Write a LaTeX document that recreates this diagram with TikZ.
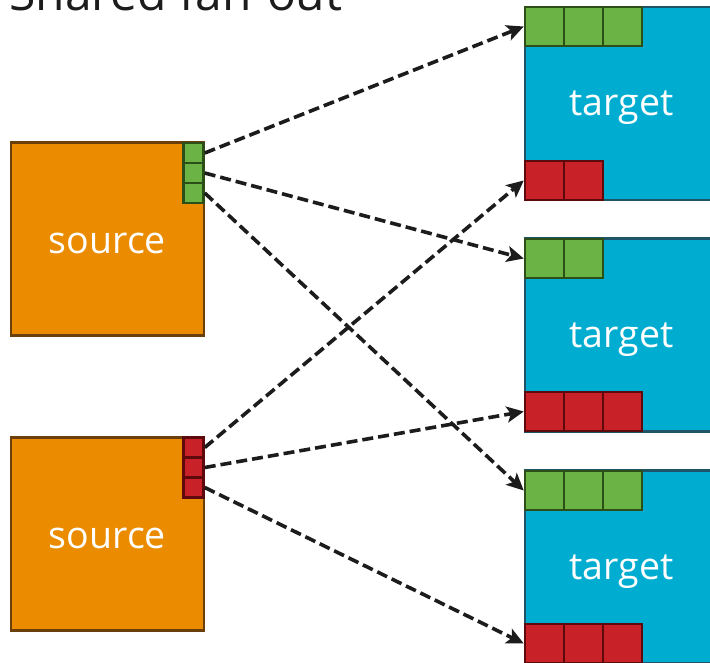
\documentclass[tikz,border=0pt]{standalone}
\usepackage{fontspec}
\setmainfont{Open Sans}
\usetikzlibrary{arrows.meta}
\definecolor{srcfill}{HTML}{EB8C00}
\definecolor{srcline}{HTML}{6B3F0C}
\definecolor{tgtfill}{HTML}{00ADD0}
\definecolor{tgtline}{HTML}{1E5466}
\definecolor{gfill}{HTML}{6AB344}
\definecolor{gline}{HTML}{2C4F18}
\definecolor{rfill}{HTML}{C82128}
\definecolor{rline}{HTML}{5E0A0C}
\definecolor{wire}{HTML}{1C1C1C}
\tikzset{
  boxtext/.style={text=white, font=\fontsize{37.5}{42}\selectfont, inner sep=0pt, yshift=-4.5pt},
  box/.style={minimum size=193pt, inner sep=0pt, line width=2.5pt},
  srcbox/.style={box, draw=srcline, fill=srcfill},
  tgtbox/.style={box, draw=tgtline, fill=tgtfill},
  gport/.style={draw=gline, fill=gfill, line width=2.5pt, inner sep=0pt},
  rport/.style={draw=rline, fill=rfill, line width=2.5pt, inner sep=0pt},
  small/.style={minimum size=20pt},
  big/.style={minimum size=39pt},
  link/.style={draw=wire, line width=3.6pt, dash pattern=on 11pt off 5pt,
    -{Stealth[length=17pt,width=16pt,inset=4pt]}}
}
\begin{document}
\begin{tikzpicture}[x=1pt,y=-1pt]
\useasboundingbox (0,0) rectangle (710,662);
\clip (0,0) rectangle (710,662);

% heading
\node[anchor=base west, inner sep=0pt, text=wire, font=\fontsize{48}{52}\selectfont] (title) at (9,10) {Shared fan-out};

% sources
\node[srcbox, label={[boxtext]center:source}] (s1) at (107.5,239) {};
\node[srcbox, label={[boxtext]center:source}] (s2) at (107.5,534) {};

% targets
\node[tgtbox, label={[boxtext]center:target}] (t1) at (621.5,103.5) {};
\node[tgtbox, label={[boxtext]center:target}] (t2) at (621.5,335) {};
\node[tgtbox, label={[boxtext]center:target}] (t3) at (621.5,567) {};

% source ports
\node[gport, small] (g1) at (193.5,153) {};
\node[gport, small] (g2) at (193.5,173) {};
\node[gport, small] (g3) at (193.5,193) {};
\node[rport, small] (r1) at (193.5,447.5) {};
\node[rport, small] (r2) at (193.5,467.5) {};
\node[rport, small] (r3) at (193.5,487.5) {};

% target 1 ports
\node[gport, big] (t1g1) at (544.5,26.5) {};
\node[gport, big] (t1g2) at (583.5,26.5) {};
\node[gport, big] (t1g3) at (622.5,26.5) {};
\node[rport, big] (t1r1) at (544.5,180.5) {};
\node[rport, big] (t1r2) at (583.5,180.5) {};

% target 2 ports
\node[gport, big] (t2g1) at (544.5,258.5) {};
\node[gport, big] (t2g2) at (583.5,258.5) {};
\node[rport, big] (t2r1) at (544.5,411.5) {};
\node[rport, big] (t2r2) at (583.5,411.5) {};
\node[rport, big] (t2r3) at (622.5,411.5) {};

% target 3 ports
\node[gport, big] (t3g1) at (544.5,490.5) {};
\node[gport, big] (t3g2) at (583.5,490.5) {};
\node[gport, big] (t3g3) at (622.5,490.5) {};
\node[rport, big] (t3r1) at (544.5,643.5) {};
\node[rport, big] (t3r2) at (583.5,643.5) {};
\node[rport, big] (t3r3) at (622.5,643.5) {};

% fan-out connections
\draw[link] (g1.east) -- (t1g1.west);
\draw[link] (g2.east) -- (t2g1.west);
\draw[link] (g3.east) -- (t3g1.west);
\draw[link] (r1.east) -- (t1r1.west);
\draw[link] (r2.east) -- (t2r1.west);
\draw[link] (r3.east) -- (t3r1.west);
\end{tikzpicture}
\end{document}
